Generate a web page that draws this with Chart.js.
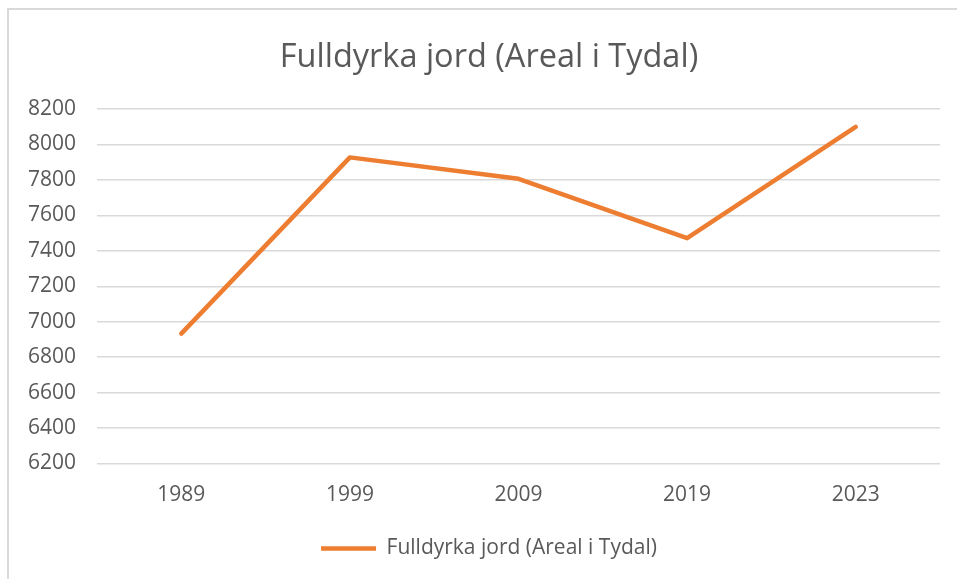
<!DOCTYPE html>
<html>
<head>
<meta charset="utf-8">
<title>Fulldyrka jord (Areal i Tydal)</title>
<script src="https://cdn.jsdelivr.net/npm/chart.js@4.4.1/dist/chart.umd.min.js"></script>
<style>
    html, body { margin: 0; padding: 0; background: #ffffff; overflow: hidden; }
    #frame {
        position: absolute; left: 7px; top: 8px;
        width: 1000px; height: 620px;
        border: 2px solid #d9d9d9;
    }
    #wrap { position: absolute; left: 0; top: 0; width: 957px; height: 579px; }
</style>
</head>
<body>
<div id="frame"></div>
<div id="wrap"><canvas id="areaChart" width="957" height="579"></canvas></div>
<script>
// Data
const years = ['1989', '1999', '2009', '2019', '2023'];
const areal = [6933, 7927, 7806, 7471, 8099];
const yTicks = { min: 6200, max: 8200, step: 200 };

const seriesName = 'Fulldyrka jord (Areal i Tydal)';
const textColor = '#595959';
const gridColor = '#d9d9d9';
const fontFamily = '"Open Sans", "Liberation Sans", sans-serif';

function init() {
    const ctx = document.getElementById('areaChart').getContext('2d');
    new Chart(ctx, {
        type: 'line',
        data: {
            labels: years,
            datasets: [{
                label: seriesName,
                data: areal,
                borderColor: '#ED7D31',
                backgroundColor: '#ED7D31',
                borderWidth: 4.5,
                borderCapStyle: 'round',
                borderJoinStyle: 'round',
                pointRadius: 0,
                pointHoverRadius: 0,
                pointStyle: 'line',
                tension: 0,
                fill: false
            }]
        },
        options: {
            responsive: false,
            animation: false,
            layout: { padding: { left: 21, right: 0, top: 0, bottom: 10 } },
            plugins: {
                title: {
                    display: true,
                    text: seriesName,
                    color: textColor,
                    font: { family: fontFamily, size: 32.5, weight: 'normal' },
                    padding: { top: 38, bottom: 32 }
                },
                legend: {
                    position: 'bottom',
                    labels: {
                        usePointStyle: true,
                        pointStyleWidth: 55,
                        padding: 10,
                        color: textColor,
                        font: { family: fontFamily, size: 21 }
                    }
                },
                tooltip: { enabled: false }
            },
            scales: {
                x: {
                    offset: true,
                    grid: { display: false, drawTicks: false },
                    border: { display: false },
                    ticks: {
                        color: textColor,
                        padding: 19,
                        font: { family: fontFamily, size: 21 }
                    },
                    afterFit: (scale) => { scale.height = 64.5; }
                },
                y: {
                    min: yTicks.min,
                    max: yTicks.max,
                    grid: { color: gridColor, lineWidth: 1.5, drawTicks: false },
                    border: { display: false },
                    ticks: {
                        stepSize: yTicks.step,
                        color: textColor,
                        padding: 21,
                        font: { family: fontFamily, size: 21 },
                        callback: (v) => String(v)
                    },
                    afterFit: (scale) => { scale.width = 76; }
                },
                // empty axis on the right, only to leave room as in the original
                yRight: {
                    position: 'right',
                    display: true,
                    grid: { display: false, drawTicks: false },
                    border: { display: false },
                    ticks: { display: false },
                    afterFit: (scale) => { scale.width = 17; }
                }
            }
        }
    });
}

init();
</script>
</body>
</html>
